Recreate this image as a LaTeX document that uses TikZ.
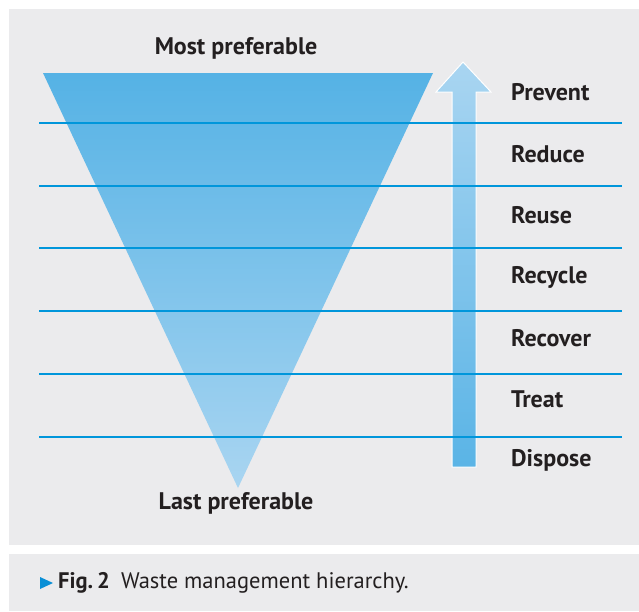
\documentclass[tikz,border=0pt]{standalone}
\usepackage{fontspec}
\setmainfont{PT Sans}
\usetikzlibrary{positioning}

\definecolor{panelgray}{HTML}{EBEBED}
\definecolor{levelblue}{HTML}{0096DB}
\definecolor{triatop}{HTML}{55B2E5}
\definecolor{triabottom}{HTML}{A9D5F1}
\definecolor{arrowtop}{HTML}{A9D5F1}
\definecolor{arrowbottom}{HTML}{5AB4E6}
\definecolor{textdark}{HTML}{231F20}
\definecolor{markblue}{HTML}{0A8FD6}

\tikzset{
	panel/.style={fill=panelgray, draw=none},
	levelline/.style={draw=levelblue, line width=2.3pt},
	levellabel/.style={anchor=west, inner sep=0pt, text=textdark, font=\bfseries\fontsize{24}{28}\selectfont},
	endlabel/.style={inner sep=0pt, text=textdark, font=\bfseries\fontsize{24}{28}\selectfont},
	captext/.style={anchor=west, inner sep=0pt, text=textdark, font=\fontsize{22.5}{26}\selectfont}
}

\begin{document}
\begin{tikzpicture}[x=1pt, y=-1pt]
	\useasboundingbox (0,0) rectangle (639,611);

	%% PANELS
	\fill[panel] (9,9) rectangle (639,545);
	\fill[panel] (9,554) rectangle (639,611);

	%% INVERTED TRIANGLE
	\shade[top color=triatop, bottom color=triabottom]
		(43,73) -- (433,73) -- (238,488) -- cycle;
	\node[endlabel] (most) at (236,48) {Most preferable};
	\node[endlabel] (last) at (236,503) {Last preferable};

	%% ARROW
	\shade[top color=arrowtop, bottom color=arrowbottom, draw=white, line width=1pt]
		(452,467) -- (452,92) -- (436,92) -- (463,62) -- (491,92)
		-- (476,92) -- (476,467) -- cycle;

	% level lines
	\foreach \y in {123,186,248,311,374,437}
		\draw[levelline] (39,\y) -- (622,\y);

	% level labels
	\foreach \name/\y/\txt in {prevent/92/Prevent, reduce/154/Reduce,
		reuse/215/Reuse, recycle/277/Recycle, recover/338/Recover,
		treat/399/Treat, dispose/460/Dispose}
		\node[levellabel] (\name) at (511,\y) {\txt};

	%% CAPTION
	\fill[markblue] (40,577) -- (53,583) -- (40,589) -- cycle;
	\node[captext] (caption) at (58,583) {\textbf{Fig.\,2}\enspace Waste management hierarchy.};
\end{tikzpicture}
\end{document}
